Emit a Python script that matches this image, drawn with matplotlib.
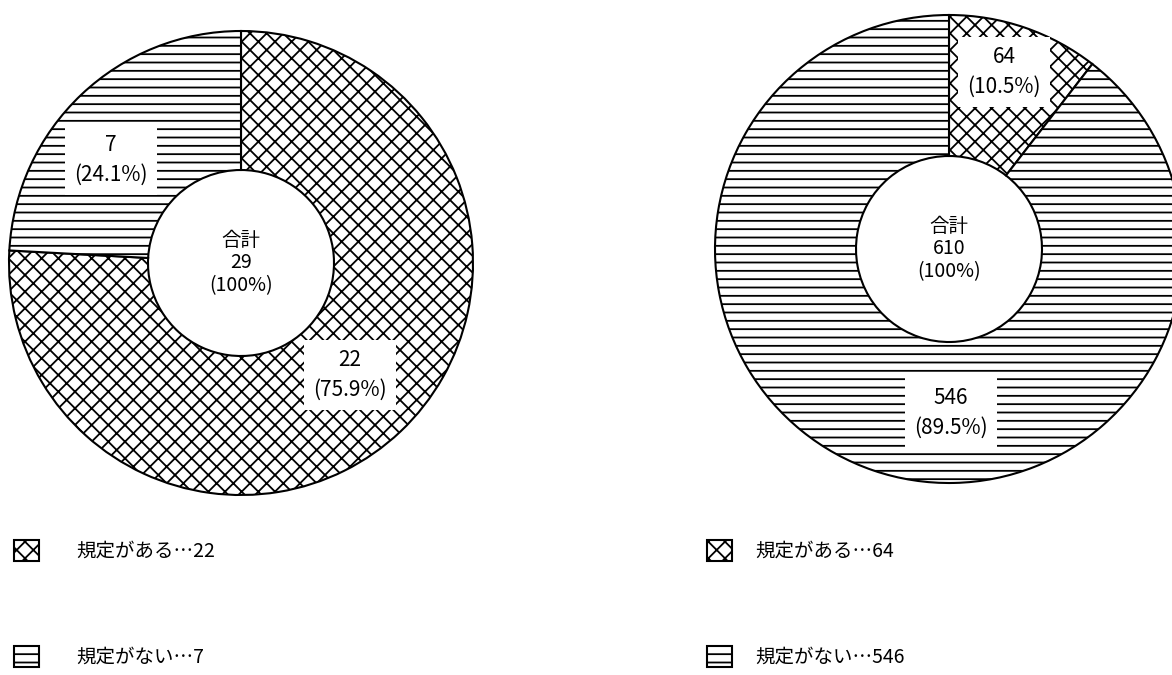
import matplotlib

matplotlib.use("Agg")
import matplotlib.pyplot as plt

W, H = 1172, 675

categories = ["規定がある", "規定がない"]
left_values = [22, 7]
left_pcts = ["75.9%", "24.1%"]
right_values = [64, 546]
right_pcts = ["10.5%", "89.5%"]
hatches = ["xx", "--"]

plt.rcParams["font.family"] = ["Noto Sans CJK JP", "DejaVu Sans"]
plt.rcParams["hatch.linewidth"] = 1.3
FS = 14

fig = plt.figure(figsize=(W / 100, H / 100), dpi=100)
ax = fig.add_axes([0, 0, 1, 1])


def py(y):
  # pixel row (top-down) -> data y (bottom-up)
  return H - y


def donut(values, pcts, center, radius, hole, label_xy, legend_xy, textpad):
  cx, cy = center
  wedges, _ = ax.pie(
    values,
    center=(cx, py(cy)),
    radius=radius,
    startangle=90,
    counterclock=False,
    colors=["white"] * len(values),
    hatch=hatches,
    wedgeprops=dict(width=radius - hole, edgecolor="black", linewidth=1.5),
  )
  total = sum(values)
  ax.text(cx, py(cy), f"合計\n{total}\n(100%)", ha="center", va="center",
          fontsize=FS, linespacing=1.1)
  for v, p, (lx, ly) in zip(values, pcts, label_xy):
    ax.text(lx, py(ly), f"{v}\n({p})", ha="center", va="center", fontsize=FS + 1,
            linespacing=1.45,
            bbox=dict(boxstyle="square,pad=0.45", fc="white", ec="none"))
  labels = [f"{c}…{v}" for c, v in zip(categories, values)]
  leg = ax.legend(
    wedges, labels,
    loc="upper left",
    bbox_to_anchor=(legend_xy[0] / W, 1 - legend_xy[1] / H),
    bbox_transform=fig.transFigure,
    frameon=False,
    fontsize=FS,
    handlelength=1.3,
    handleheight=1.3,
    handletextpad=textpad,
    labelspacing=4.3,
    borderpad=0,
    borderaxespad=0,
  )
  return leg


leg1 = donut(left_values, left_pcts, (241, 263), 232, 93,
             [(350, 375), (111, 160)], (14, 540), 1.9)
ax.add_artist(leg1)
donut(right_values, right_pcts, (949, 249), 234, 93,
      [(1004, 72), (951, 413)], (707, 540), 1.2)

ax.set_xlim(0, W)
ax.set_ylim(0, H)
ax.axis("off")

fig.savefig("out.png", dpi=100)
